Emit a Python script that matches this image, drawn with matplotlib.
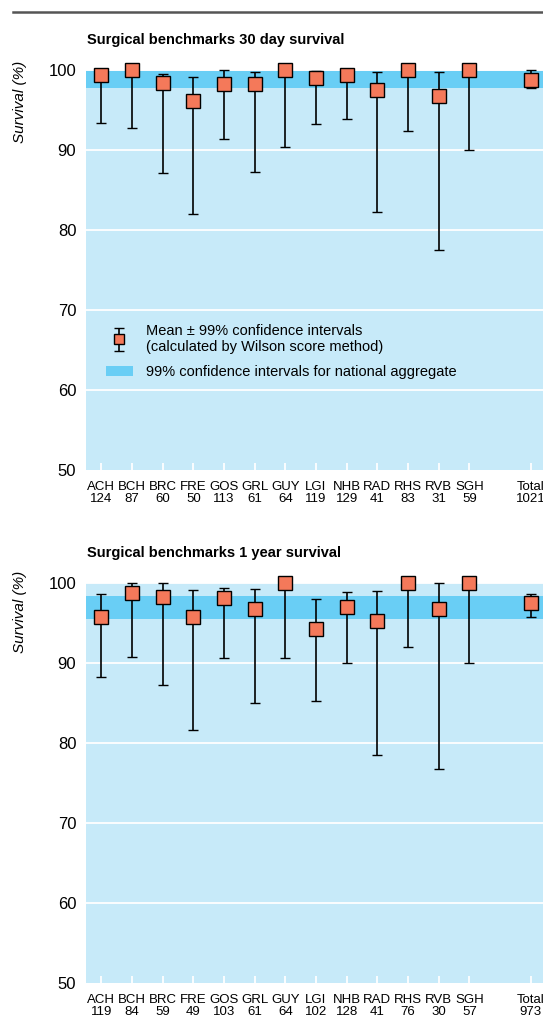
import matplotlib
matplotlib.use('Agg')
import matplotlib.pyplot as plt
from matplotlib.patches import Patch
from matplotlib.lines import Line2D
from matplotlib.legend_handler import HandlerErrorbar
import numpy

plt.rcParams['font.family'] = ['Liberation Sans', 'DejaVu Sans']

# Данные
centres = ['ACH', 'BCH', 'BRC', 'FRE', 'GOS', 'GRL', 'GUY', 'LGI', 'NHB', 'RAD', 'RHS', 'RVB', 'SGH', 'Total']

n_30day = [124, 87, 60, 50, 113, 61, 64, 119, 129, 41, 83, 31, 59, 1021]
mean_30day = [99.4, 100, 98.4, 96.1, 98.2, 98.3, 100, 99.0, 99.4, 97.5, 100, 96.8, 100, 98.7]
upper_30day = [100, 100, 99.5, 99.1, 100, 99.8, 100, 99.9, 100, 99.75, 100, 99.75, 100, 99.95]
lower_30day = [93.4, 92.8, 87.1, 82.0, 91.4, 87.3, 90.4, 93.2, 93.9, 82.2, 92.4, 77.5, 89.95, 97.8]
band_30day = (97.7, 99.85)

n_1year = [119, 84, 59, 49, 103, 61, 64, 102, 128, 41, 76, 30, 57, 973]
mean_1year = [95.7, 98.7, 98.25, 95.8, 98.1, 96.8, 100, 94.2, 97.0, 95.2, 100, 96.8, 100, 97.5]
upper_1year = [98.6, 100, 100, 99.1, 99.4, 99.25, 100, 98.0, 98.9, 99.05, 100, 100, 100, 98.6]
lower_1year = [88.3, 90.7, 87.2, 81.6, 90.6, 85.0, 90.6, 85.2, 90.0, 78.5, 92.0, 76.75, 90.0, 95.75]
band_1year = (95.5, 98.4)

positions = list(range(13)) + [14]

light_blue = '#C7EAF9'
band_blue = '#69CEF5'
marker_col = '#F4795A'


def drawPanel(axes, title, n, mean, upper, lower, band, title_y, label_y, legend=False):
    axes.set_facecolor(light_blue)
    for s in axes.spines.values():
        s.set_visible(False)
    axes.axhspan(band[0], band[1], color=band_blue, lw=0, zorder=0.5)
    for g in [60, 70, 80, 90, 100]:
        axes.axhline(g, color='white', lw=1.3, zorder=0.6)

    yerr = [numpy.array(mean) - numpy.array(lower), numpy.array(upper) - numpy.array(mean)]
    eb = axes.errorbar(positions, mean, yerr=yerr, fmt='s', color='black', ecolor='black',
                       elinewidth=1.2, capsize=3.5, capthick=1.2, markersize=10,
                       markerfacecolor=marker_col, markeredgecolor='black', markeredgewidth=1.0,
                       zorder=3, clip_on=False)
    axes.set_xlim(-0.5, 14.4)
    axes.set_ylim(50, 100)
    axes.set_yticks([50, 60, 70, 80, 90, 100])
    axes.tick_params(axis='y', length=0, pad=7, labelsize=12)
    labels = [c + '\n' + str(k) for c, k in zip(centres, n)]
    axes.set_xticks(positions, labels)
    axes.tick_params(axis='x', direction='in', length=5, width=1.3, color='white',
                     pad=8, labelsize=9.5)
    for t in axes.get_xticklabels():
        t.set_linespacing(1.0)

    fig.text(87 / 543, title_y, title, fontsize=10.5, fontweight='bold', va='center', ha='left')
    fig.text(0.037, label_y, 'Survival (%)', fontsize=11, style='italic', rotation=90,
             va='center', ha='center')

    if legend:
        handles = [eb, Patch(facecolor=band_blue, edgecolor='none')]
        names = ['Mean \u00b1 99% confidence intervals\n(calculated by Wilson score method)',
                 '99% confidence intervals for national aggregate']
        axes.legend(handles, names, loc='upper left', bbox_to_anchor=(0.03, 0.38),
                    frameon=False, fontsize=10.5, handlelength=1.85, handletextpad=0.9,
                    labelspacing=0.75, borderaxespad=0, markerscale=0.75,
                    handler_map={type(eb): HandlerErrorbar(yerr_size=0.8)})


fig = plt.figure(figsize=(5.43, 10.21), dpi=100)
fig.add_artist(Line2D([13 / 543, 1.0], [1 - 12 / 1021, 1 - 12 / 1021], color='#555555', lw=1.8))

ax1 = fig.add_axes([86 / 543, 1 - 470 / 1021, 1 - 86 / 543, 400 / 1021])
drawPanel(ax1, 'Surgical benchmarks 30 day survival', n_30day, mean_30day, upper_30day,
          lower_30day, band_30day, 1 - 40 / 1021, 1 - 102 / 1021, legend=True)

ax2 = fig.add_axes([86 / 543, 1 - 983 / 1021, 1 - 86 / 543, 400 / 1021])
drawPanel(ax2, 'Surgical benchmarks 1 year survival', n_1year, mean_1year, upper_1year,
          lower_1year, band_1year, 1 - 553 / 1021, 1 - 612 / 1021)

fig.savefig('out.png', dpi=100)
